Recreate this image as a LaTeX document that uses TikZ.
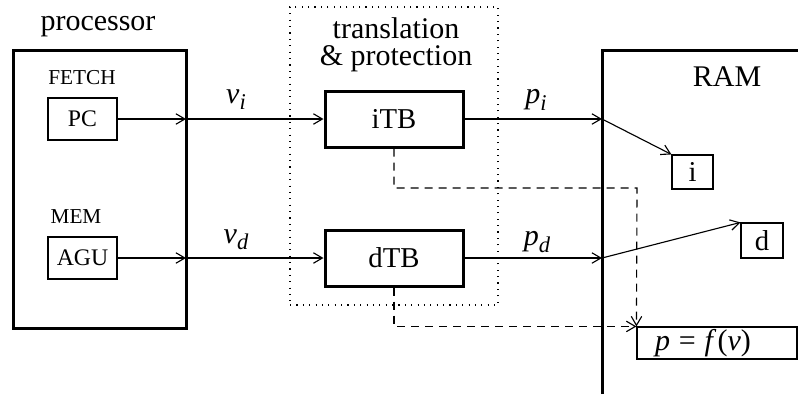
\documentclass[tikz,border=0pt]{standalone}
\usepackage{fontspec}
\setmainfont{Liberation Serif}
\usetikzlibrary{arrows.meta}
\newcommand{\subsc}[1]{\raisebox{-0.45ex}{\fontsize{9}{10}\selectfont\textit{#1}}}
\begin{document}
\begin{tikzpicture}[x=0.4pt,y=-0.4pt,
  thinln/.style={line width=0.45pt},
  thickln/.style={line width=1.2pt},
  arr/.style={thinln,-{Straight Barb[length=3.6pt,width=4.2pt,line width=0.45pt]}},
  dashln/.style={thinln,dash pattern=on 3.2pt off 2.4pt},
  smallbox/.style={draw,thinln,inner sep=0pt,font=\fontsize{9.5}{11}\selectfont},
  tbbox/.style={draw,thickln,inner sep=0pt,minimum width=55.2pt,minimum height=22.4pt,font=\fontsize{11.5}{13}\selectfont},
  lbl/.style={inner sep=0pt,font=\fontsize{12}{14}\selectfont},
  caplbl/.style={inner sep=0pt,font=\fontsize{8.5}{9}\selectfont}]
\useasboundingbox (0,0) rectangle (798,394);
% processor
\node[lbl] (proclbl) at (98,27) {processor};
\node[draw,thickln,minimum width=68.8pt,minimum height=111.2pt,inner sep=0pt] (proc) at (100,189) {};
\node[caplbl] (fetch) at (82,78) {FETCH};
\node[smallbox,minimum width=27.6pt,minimum height=16.8pt] (pc) at (82.5,119) {PC};
\node[caplbl] (mem) at (76,217) {MEM};
\node[smallbox,minimum width=27.6pt,minimum height=16.8pt] (agu) at (82.5,258) {AGU};
% translation & protection
\node[draw,thinln,dash pattern=on 0.45pt off 2.1pt,minimum width=83.2pt,minimum height=119.2pt,inner sep=0pt] (tp) at (394,156) {};
\node[lbl,align=center,font=\fontsize{12}{10.8}\selectfont] (tplbl) at (396,45) {translation\\\& protection};
\node[tbbox] (itb) at (394,119) {iTB};
\node[tbbox] (dtb) at (394,258) {dTB};
% RAM
\coordinate (ramb) at (602,394);
\coordinate (ramt) at (602,50);
\coordinate (ramr) at (798,50);
\draw[thickln] (ramb) -- (ramt) -- (ramr);
\node[lbl] (ramlbl) at (727,77) {RAM};
\node[smallbox,minimum width=16.4pt,minimum height=13.6pt,font=\fontsize{11.5}{13}\selectfont] (ibox) at (692.5,172) {i};
\node[smallbox,minimum width=16.8pt,minimum height=14pt,font=\fontsize{11.5}{13}\selectfont] (dbox) at (762,240.5) {d};
\node[draw,thinln,minimum width=64pt,minimum height=12.8pt,inner sep=0pt] (pbox) at (717,343) {};
\node[lbl] (pfv) at (703,343) {\textit{p}\hspace{3.5pt}=\hspace{3.5pt}\textit{f}\kern0.5pt(\textit{v})};
% coordinates on edges
\coordinate (pe1) at (186,119);
\coordinate (pe2) at (186,258);
\coordinate (re1) at (602,119);
\coordinate (re2) at (602,258);
\coordinate (c1) at (637,188);
% connectors
\draw[arr] (pc.east) -- (pe1);
\draw[arr] (pe1) -- (itb.west);
\draw[arr] (agu.east) -- (pe2);
\draw[arr] (pe2) -- (dtb.west);
\draw[arr] (itb.east) -- (re1);
\draw[arr] (dtb.east) -- (re2);
\draw[arr] (re1) -- (ibox.north west);
\draw[arr] (re2) -- (dbox.north west);
\draw[dashln,-{Straight Barb[length=3.6pt,width=4.2pt,line width=0.45pt]}] (itb.south) |- (c1) -- (pbox.north west);
\draw[dashln,-{Straight Barb[length=3.6pt,width=4.2pt,line width=0.45pt]}] (dtb.south) |- (pbox.north west);
% labels
\node[lbl] (vi) at (236,100) {\textit{v}\subsc{i}};
\node[lbl] (vd) at (236,240) {\textit{v}\subsc{d}};
\node[lbl] (pi) at (536,100) {\textit{p}\subsc{i}};
\node[lbl] (pd) at (537,242) {\textit{p}\subsc{d}};
\end{tikzpicture}
\end{document}
